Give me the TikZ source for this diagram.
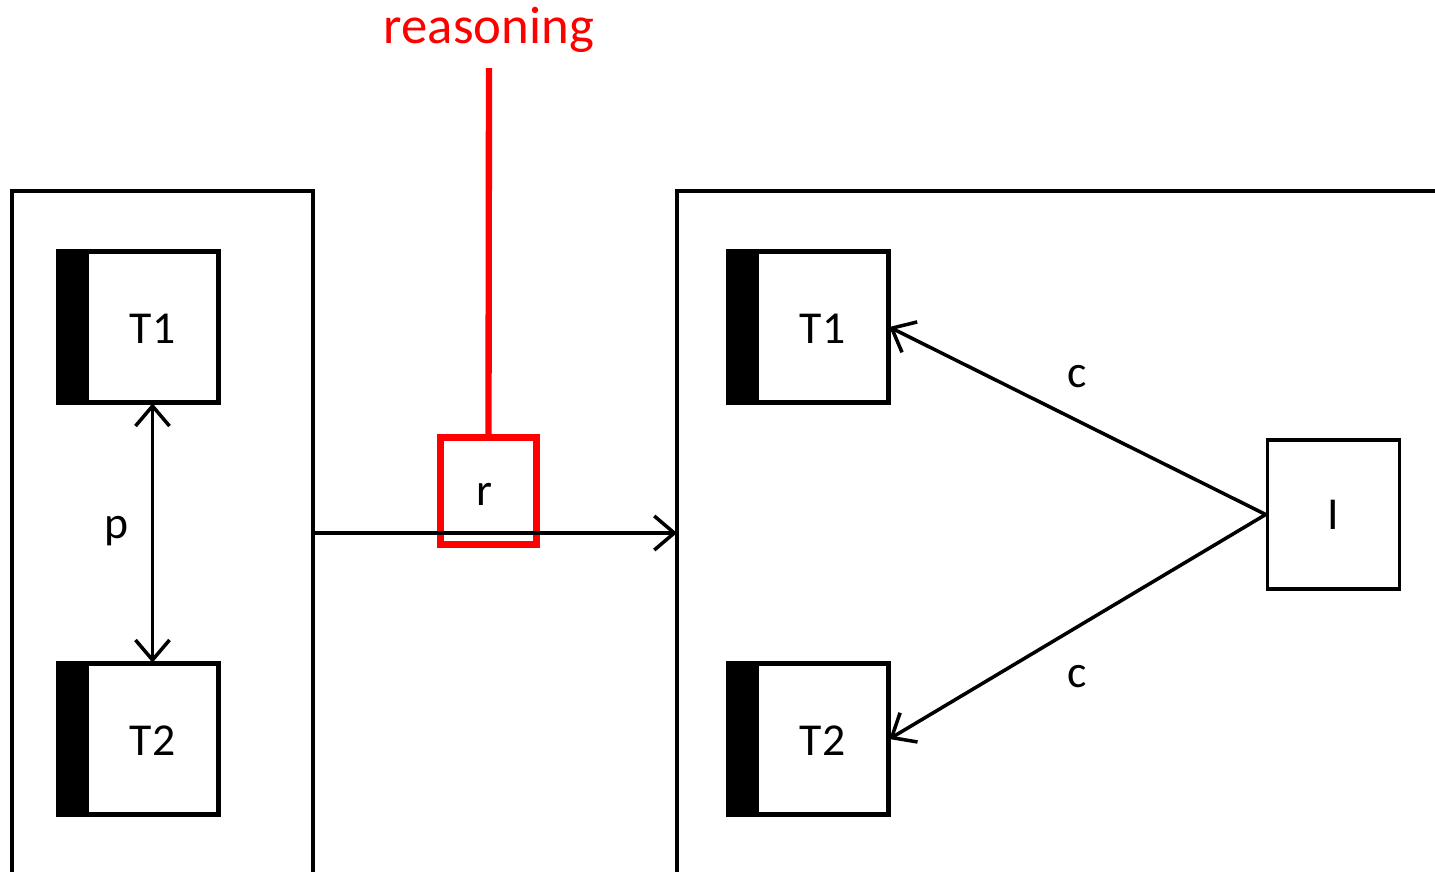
\documentclass[tikz,border=0pt]{standalone}
\usepackage{fontspec}
\setmainfont{Carlito}
\usetikzlibrary{arrows.meta,positioning}

\tikzset{
  tbox/.style={draw, line width=1pt, minimum width=1.30cm, minimum height=1.49cm,
    inner sep=0pt, font=\fontsize{13}{15}\selectfont},
  ibox/.style={tbox, minimum width=1.32cm, minimum height=1.49cm},
  rbox/.style={draw=red, line width=1.8pt, minimum width=0.96cm, minimum height=1.07cm,
    inner sep=0pt, font=\fontsize{13}{15}\selectfont},
  lbl/.style={font=\fontsize{13}{15}\selectfont, inner sep=0pt},
  inlbl/.style={label={[lbl,yshift=-0.02cm]center:#1}},
  arr/.style={line width=1pt, -{Straight Barb[length=2mm,width=3.4mm]}},
}

\begin{document}
\begin{tikzpicture}[x=0.01cm, y=-0.01cm]
  \useasboundingbox (0,0) rectangle (1435,872);
  % containers
  \draw[line width=1pt] (12,880) -- (12,191) -- (313,191) -- (313,880);
  \draw[line width=1pt] (677,880) -- (677,191) -- (1440,191);
  \coordinate (lout) at (313,533);
  \coordinate (rin) at (677,533);
  % task boxes with black bar
  \node[tbox, inlbl=T1] (T1l) at (152.5,327) {};
  \node[tbox, inlbl=T2] (T2l) at (152.5,739) {};
  \node[tbox, inlbl=T1] (T1r) at (822.5,327) {};
  \node[tbox, inlbl=T2] (T2r) at (822.5,739) {};
  \foreach \n in {T1l,T2l,T1r,T2r} {
    \fill ([xshift=-0.28cm]\n.north west) rectangle (\n.south west);
    \draw[line width=1pt] ([xshift=-0.28cm]\n.north west) rectangle (\n.south east);
  }
  \node[ibox] (I) at (1333.5,514.5) {I};
  % reasoning
  \node[font=\fontsize{15}{18}\selectfont, text=red, inner sep=0pt] (reason) at (489,30) {reasoning};
  \coordinate (rtop) at (489,68);
  \node[rbox, label={[lbl,yshift=-0.03cm,xshift=-0.04cm]center:r}] (r) at (488.5,491) {};
  % connectors
  \draw[line width=1pt, {Straight Barb[length=2mm,width=3.4mm]}-{Straight Barb[length=2mm,width=3.4mm]}] (T1l.south) -- (T2l.north);
  \node[lbl] (p) at (117,531) {p};
  \draw[arr] (lout) -- (rin);
  \draw[red, line width=1.8pt] (rtop) -- (r.north);
  \draw[arr] (I.west) -- (T1r.east);
  \draw[arr] (I.west) -- (T2r.east);
  \node[lbl] (c1) at (1077,377) {c};
  \node[lbl] (c2) at (1077,677) {c};
\end{tikzpicture}
\end{document}
